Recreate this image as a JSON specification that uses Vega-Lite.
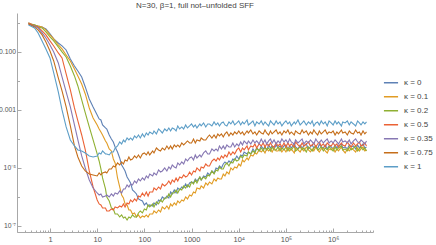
{
"$schema": "https://vega.github.io/schema/vega-lite/v6.json",
"width": 356, "height": 219,
"autosize": {"type": "none"},
"padding": {"left": 17, "top": 13, "right": 63, "bottom": 13},
"background": "white",
"config": {"view": {"stroke": null}, "font": "Liberation Sans"},
"title": {"text": "N=30, β=1, full not–unfolded SFF", "fontSize": 8, "fontWeight": "normal", "color": "#444", "anchor": "middle", "frame": "group", "offset": -5, "baseline": "bottom"},
"datasets": {"sff": [
{"t":0.35,"a":1,"b":1,"c":1,"d":1,"e":0.924,"f":0.924,"g":0.853},
{"t":0.39,"a":0.924,"b":0.924,"c":0.924,"d":0.924,"e":0.853,"f":0.853,"g":0.788},
{"t":0.47,"a":0.853,"b":0.853,"c":0.853,"d":0.788,"e":0.788,"f":0.728,"g":0.672},
{"t":0.56,"a":0.788,"b":0.788,"c":0.728,"d":0.728,"e":0.672,"f":0.574,"g":0.452},
{"t":0.68,"a":0.728,"b":0.728,"c":0.672,"d":0.53,"e":0.452,"f":0.386,"g":0.24},
{"t":0.82,"a":0.621,"b":0.574,"c":0.489,"d":0.386,"e":0.304,"f":0.221,"g":0.127},
{"t":1,"a":0.418,"b":0.386,"c":0.329,"d":0.24,"e":0.174,"f":0.108,"g":0.0621},
{"t":1.2,"a":0.281,"b":0.281,"c":0.24,"d":0.161,"e":0.1,"f":0.0489,"g":0.0189},
{"t":1.5,"a":0.204,"b":0.174,"c":0.149,"d":0.0924,"e":0.0418,"f":0.0127,"g":0.00418},
{"t":1.8,"a":0.161,"b":0.127,"c":0.1,"d":0.0621,"e":0.0137,"f":0.00452,"g":0.001},
{"t":2.2,"a":0.117,"b":0.0788,"c":0.0672,"d":0.0174,"e":0.00418,"f":0.00127,"g":2.59e-4},
{"t":2.7,"a":0.0574,"b":0.0489,"c":0.0329,"d":0.00489,"e":0.00127,"f":2.81e-4,"g":9.24e-5},
{"t":3.3,"a":0.0329,"b":0.0259,"c":0.0149,"d":0.00117,"e":3.04e-4,"f":5.74e-5,"g":5.74e-5},
{"t":3.9,"a":0.0221,"b":0.0149,"c":0.00672,"d":4.18e-4,"e":9.24e-5,"f":2.4e-5,"g":4.18e-5},
{"t":4.7,"a":0.0137,"b":0.00788,"c":0.00221,"d":1.37e-4,"e":2.59e-5,"f":1.17e-5,"g":3.86e-5},
{"t":5.6,"a":0.00621,"b":0.00356,"c":7.88e-4,"d":4.18e-5,"e":1e-5,"f":7.88e-6,"g":3.29e-5},
{"t":6.8,"a":0.0024,"b":0.00117,"c":2.59e-4,"d":7.88e-6,"e":3.86e-6,"f":6.21e-6,"g":2.59e-5},
{"t":8.2,"a":0.00127,"b":5.3e-4,"c":9.24e-5,"d":2.21e-6,"e":2.04e-6,"f":5.74e-6,"g":2.4e-5},
{"t":10,"a":6.72e-4,"b":3.04e-4,"c":3.04e-5,"d":7.88e-7,"e":1.37e-6,"f":5.3e-6,"g":2.59e-5},
{"t":11,"a":4.89e-4,"b":2.21e-4,"c":1.74e-5,"d":5.74e-7,"e":1.17e-6,"f":6.72e-6,"g":3.29e-5},
{"t":12,"a":4.52e-4,"b":1.74e-4,"c":9.24e-6,"d":5.3e-7,"e":1.27e-6,"f":5.74e-6,"g":3.04e-5},
{"t":13,"a":3.04e-4,"b":1.37e-4,"c":4.52e-6,"d":4.18e-7,"e":1e-6,"f":6.72e-6,"g":3.86e-5},
{"t":15,"a":2.4e-4,"b":8.53e-5,"c":1.89e-6,"d":4.18e-7,"e":1.08e-6,"f":7.28e-6,"g":3.04e-5},
{"t":16,"a":2.21e-4,"b":7.28e-5,"c":1e-6,"d":3.29e-7,"e":1.17e-6,"f":6.72e-6,"g":3.04e-5},
{"t":18,"a":1.37e-4,"b":4.52e-5,"c":7.28e-7,"d":3.29e-7,"e":1e-6,"f":9.24e-6,"g":2.81e-5},
{"t":20,"a":1e-4,"b":3.86e-5,"c":4.18e-7,"d":3.86e-7,"e":1.27e-6,"f":9.24e-6,"g":3.56e-5},
{"t":22,"a":7.88e-5,"b":2.04e-5,"c":3.86e-7,"d":3.56e-7,"e":1.08e-6,"f":1.17e-5,"g":3.56e-5},
{"t":24,"a":5.3e-5,"b":1.49e-5,"c":2.59e-7,"d":4.52e-7,"e":1.37e-6,"f":1.08e-5,"g":4.89e-5},
{"t":27,"a":3.56e-5,"b":4.52e-6,"c":2.59e-7,"d":4.18e-7,"e":1.27e-6,"f":1.49e-5,"g":5.74e-5},
{"t":30,"a":2.21e-5,"b":2.21e-6,"c":2.04e-7,"d":4.89e-7,"e":1.61e-6,"f":1.27e-5,"g":7.88e-5},
{"t":33,"a":1.27e-5,"b":1.17e-6,"c":2.4e-7,"d":4.52e-7,"e":1.37e-6,"f":1.61e-5,"g":6.72e-5},
{"t":36,"a":1e-5,"b":9.24e-7,"c":1.89e-7,"d":5.74e-7,"e":1.89e-6,"f":1.37e-5,"g":9.24e-5},
{"t":39,"a":7.88e-6,"b":5.74e-7,"c":2.04e-7,"d":4.52e-7,"e":1.89e-6,"f":1.89e-5,"g":7.88e-5},
{"t":43,"a":4.89e-6,"b":5.3e-7,"c":1.61e-7,"d":6.21e-7,"e":2.59e-6,"f":1.74e-5,"g":1.08e-4},
{"t":47,"a":3.86e-6,"b":3.56e-7,"c":2.04e-7,"d":5.74e-7,"e":2.21e-6,"f":2.4e-5,"g":9.24e-5},
{"t":51,"a":3.04e-6,"b":3.56e-7,"c":1.89e-7,"d":7.88e-7,"e":2.81e-6,"f":1.89e-5,"g":1.08e-4},
{"t":56,"a":1.74e-6,"b":2.59e-7,"c":2.4e-7,"d":6.72e-7,"e":2.59e-6,"f":2.04e-5,"g":9.24e-5},
{"t":62,"a":1.49e-6,"b":2.81e-7,"c":2.04e-7,"d":8.53e-7,"e":3.56e-6,"f":2.59e-5,"g":1.27e-4},
{"t":68,"a":1.27e-6,"b":2.04e-7,"c":2.04e-7,"d":7.28e-7,"e":3.04e-6,"f":2.21e-5,"g":1.08e-4},
{"t":75,"a":8.53e-7,"b":2.4e-7,"c":2.81e-7,"d":1.08e-6,"e":4.18e-6,"f":2.81e-5,"g":1.37e-4},
{"t":82,"a":7.88e-7,"b":1.89e-7,"c":3.29e-7,"d":1e-6,"e":3.56e-6,"f":2.21e-5,"g":1.08e-4},
{"t":91,"a":7.28e-7,"b":2.21e-7,"c":2.81e-7,"d":1.37e-6,"e":4.52e-6,"f":3.04e-5,"g":1.49e-4},
{"t":100,"a":5.3e-7,"b":2.04e-7,"c":3.86e-7,"d":1.08e-6,"e":3.86e-6,"f":3.29e-5,"g":1.17e-4},
{"t":110,"a":6.21e-7,"b":2.4e-7,"c":3.56e-7,"d":1.49e-6,"e":5.3e-6,"f":2.81e-5,"g":1.61e-4},
{"t":120,"a":4.89e-7,"b":2.04e-7,"c":5.3e-7,"d":1.08e-6,"e":4.52e-6,"f":3.56e-5,"g":1.37e-4},
{"t":130,"a":5.3e-7,"b":2.59e-7,"c":4.52e-7,"d":1.49e-6,"e":6.21e-6,"f":2.81e-5,"g":1.74e-4},
{"t":150,"a":4.89e-7,"b":2.59e-7,"c":5.74e-7,"d":1.49e-6,"e":5.3e-6,"f":3.86e-5,"g":1.49e-4},
{"t":160,"a":6.21e-7,"b":3.29e-7,"c":4.52e-7,"d":2.04e-6,"e":6.72e-6,"f":3.29e-5,"g":1.89e-4},
{"t":180,"a":5.3e-7,"b":2.81e-7,"c":6.72e-7,"d":1.74e-6,"e":5.74e-6,"f":4.89e-5,"g":1.49e-4},
{"t":200,"a":7.88e-7,"b":3.56e-7,"c":5.74e-7,"d":2.21e-6,"e":8.53e-6,"f":4.18e-5,"g":2.21e-4},
{"t":220,"a":7.28e-7,"b":3.04e-7,"c":7.88e-7,"d":1.89e-6,"e":7.28e-6,"f":3.86e-5,"g":1.89e-4},
{"t":240,"a":1e-6,"b":4.52e-7,"c":6.72e-7,"d":2.81e-6,"e":7.88e-6,"f":4.89e-5,"g":1.61e-4},
{"t":270,"a":8.53e-7,"b":3.86e-7,"c":9.24e-7,"d":2.4e-6,"e":1e-5,"f":4.18e-5,"g":2.21e-4},
{"t":300,"a":1.08e-6,"b":4.89e-7,"c":9.24e-7,"d":2.81e-6,"e":7.88e-6,"f":5.74e-5,"g":1.89e-4},
{"t":330,"a":9.24e-7,"b":3.86e-7,"c":1.27e-6,"d":3.56e-6,"e":1.08e-5,"f":4.52e-5,"g":2.4e-4},
{"t":360,"a":1.49e-6,"b":5.74e-7,"c":1e-6,"d":2.81e-6,"e":9.24e-6,"f":5.74e-5,"g":1.89e-4},
{"t":390,"a":1.27e-6,"b":4.89e-7,"c":1.37e-6,"d":3.86e-6,"e":1.27e-5,"f":4.52e-5,"g":2.4e-4},
{"t":430,"a":1.74e-6,"b":6.21e-7,"c":1.37e-6,"d":3.29e-6,"e":1.08e-5,"f":6.21e-5,"g":2.21e-4},
{"t":470,"a":1.37e-6,"b":5.3e-7,"c":1.74e-6,"d":4.52e-6,"e":1e-5,"f":5.3e-5,"g":1.89e-4},
{"t":510,"a":2.04e-6,"b":7.28e-7,"c":1.37e-6,"d":3.56e-6,"e":1.49e-5,"f":6.21e-5,"g":2.81e-4},
{"t":560,"a":1.74e-6,"b":6.21e-7,"c":1.89e-6,"d":4.89e-6,"e":1.27e-5,"f":5.3e-5,"g":2.21e-4},
{"t":620,"a":2.21e-6,"b":7.88e-7,"c":1.74e-6,"d":4.52e-6,"e":1.61e-5,"f":7.28e-5,"g":2.59e-4},
{"t":680,"a":2.04e-6,"b":7.28e-7,"c":2.4e-6,"d":5.74e-6,"e":1.37e-5,"f":6.21e-5,"g":2.21e-4},
{"t":750,"a":2.81e-6,"b":1e-6,"c":2.04e-6,"d":4.89e-6,"e":2.04e-5,"f":7.28e-5,"g":3.04e-4},
{"t":820,"a":2.21e-6,"b":8.53e-7,"c":2.59e-6,"d":5.3e-6,"e":1.74e-5,"f":8.53e-5,"g":2.4e-4},
{"t":910,"a":3.04e-6,"b":1.17e-6,"c":2.21e-6,"d":7.28e-6,"e":2.21e-5,"f":7.28e-5,"g":2.81e-4},
{"t":1000,"a":3.29e-6,"b":1.08e-6,"c":3.29e-6,"d":5.74e-6,"e":2.4e-5,"f":7.28e-5,"g":3.29e-4},
{"t":1100,"a":3.04e-6,"b":1.49e-6,"c":2.81e-6,"d":7.88e-6,"e":1.89e-5,"f":1e-4,"g":2.59e-4},
{"t":1200,"a":4.18e-6,"b":1.37e-6,"c":3.86e-6,"d":7.28e-6,"e":2.81e-5,"f":7.28e-5,"g":3.04e-4},
{"t":1300,"a":3.56e-6,"b":2.04e-6,"c":3.04e-6,"d":1e-5,"e":2.21e-5,"f":9.24e-5,"g":2.4e-4},
{"t":1500,"a":4.89e-6,"b":1.89e-6,"c":4.89e-6,"d":7.88e-6,"e":2.81e-5,"f":8.53e-5,"g":3.29e-4},
{"t":1600,"a":3.86e-6,"b":2.4e-6,"c":3.86e-6,"d":1.08e-5,"e":2.4e-5,"f":1.08e-4,"g":2.81e-4},
{"t":1800,"a":5.3e-6,"b":2.04e-6,"c":4.89e-6,"d":1e-5,"e":3.29e-5,"f":9.24e-5,"g":3.56e-4},
{"t":2000,"a":4.89e-6,"b":3.04e-6,"c":4.18e-6,"d":1.37e-5,"e":3.86e-5,"f":9.24e-5,"g":2.59e-4},
{"t":2200,"a":6.72e-6,"b":2.59e-6,"c":5.74e-6,"d":1.17e-5,"e":3.04e-5,"f":1.17e-4,"g":3.29e-4},
{"t":2400,"a":5.74e-6,"b":3.29e-6,"c":5.3e-6,"d":1.17e-5,"e":3.04e-5,"f":1.37e-4,"g":3.29e-4},
{"t":2700,"a":7.88e-6,"b":2.81e-6,"c":7.88e-6,"d":1.74e-5,"e":4.52e-5,"f":1.08e-4,"g":2.81e-4},
{"t":3000,"a":6.72e-6,"b":4.18e-6,"c":6.21e-6,"d":2.04e-5,"e":3.86e-5,"f":1.37e-4,"g":3.86e-4},
{"t":3300,"a":1e-5,"b":3.56e-6,"c":8.53e-6,"d":1.74e-5,"e":4.52e-5,"f":1.08e-4,"g":3.04e-4},
{"t":3600,"a":9.24e-6,"b":4.52e-6,"c":7.88e-6,"d":2.21e-5,"e":3.86e-5,"f":1.49e-4,"g":3.56e-4},
{"t":3900,"a":1.17e-5,"b":4.18e-6,"c":1.08e-5,"d":1.89e-5,"e":5.74e-5,"f":1.27e-4,"g":2.81e-4},
{"t":4300,"a":1e-5,"b":4.18e-6,"c":9.24e-6,"d":2.59e-5,"e":4.52e-5,"f":1.49e-4,"g":3.56e-4},
{"t":4700,"a":1.37e-5,"b":6.21e-6,"c":9.24e-6,"d":2.21e-5,"e":5.74e-5,"f":1.17e-4,"g":3.86e-4},
{"t":5100,"a":1.61e-5,"b":5.3e-6,"c":1.27e-5,"d":2.81e-5,"e":4.52e-5,"f":1.49e-4,"g":3.04e-4},
{"t":5600,"a":1.37e-5,"b":7.28e-6,"c":1.49e-5,"d":2.4e-5,"e":6.21e-5,"f":1.74e-4,"g":2.81e-4},
{"t":6200,"a":1.74e-5,"b":6.21e-6,"c":1.17e-5,"d":3.56e-5,"e":5.3e-5,"f":1.27e-4,"g":3.86e-4},
{"t":6800,"a":1.49e-5,"b":1e-5,"c":1.61e-5,"d":2.81e-5,"e":5.3e-5,"f":1.61e-4,"g":3.29e-4},
{"t":7500,"a":2.04e-5,"b":8.53e-6,"c":1.49e-5,"d":3.56e-5,"e":7.28e-5,"f":1.37e-4,"g":4.18e-4},
{"t":8200,"a":1.89e-5,"b":1.08e-5,"c":2.04e-5,"d":3.04e-5,"e":5.3e-5,"f":1.74e-4,"g":3.04e-4},
{"t":9100,"a":2.59e-5,"b":1e-5,"c":1.74e-5,"d":4.18e-5,"e":6.72e-5,"f":1.49e-4,"g":3.56e-4},
{"t":10000,"a":2.04e-5,"b":1.37e-5,"c":1.89e-5,"d":4.89e-5,"e":5.74e-5,"f":1.89e-4,"g":4.18e-4},
{"t":11000,"a":2.81e-5,"b":1.17e-5,"c":2.59e-5,"d":3.56e-5,"e":7.88e-5,"f":1.49e-4,"g":3.04e-4},
{"t":12000,"a":2.59e-5,"b":1.89e-5,"c":2.21e-5,"d":4.89e-5,"e":6.21e-5,"f":1.74e-4,"g":3.86e-4},
{"t":13000,"a":3.56e-5,"b":1.61e-5,"c":2.81e-5,"d":4.18e-5,"e":8.53e-5,"f":1.37e-4,"g":3.29e-4},
{"t":15000,"a":3.04e-5,"b":2.21e-5,"c":2.59e-5,"d":5.74e-5,"e":6.72e-5,"f":1.89e-4,"g":4.52e-4},
{"t":16000,"a":3.56e-5,"b":1.89e-5,"c":3.56e-5,"d":4.18e-5,"e":8.53e-5,"f":1.61e-4,"g":3.04e-4},
{"t":18000,"a":3.04e-5,"b":2.81e-5,"c":3.04e-5,"d":5.74e-5,"e":6.72e-5,"f":2.04e-4,"g":3.56e-4},
{"t":20000,"a":4.52e-5,"b":2.59e-5,"c":3.86e-5,"d":5.3e-5,"e":9.24e-5,"f":1.49e-4,"g":4.18e-4},
{"t":22000,"a":3.56e-5,"b":3.29e-5,"c":3.29e-5,"d":6.72e-5,"e":7.28e-5,"f":1.74e-4,"g":2.81e-4},
{"t":24000,"a":4.89e-5,"b":3.04e-5,"c":4.89e-5,"d":4.89e-5,"e":8.53e-5,"f":1.37e-4,"g":3.86e-4},
{"t":27000,"a":3.86e-5,"b":4.18e-5,"c":3.86e-5,"d":6.72e-5,"e":6.72e-5,"f":1.89e-4,"g":3.29e-4},
{"t":30000,"a":5.74e-5,"b":3.56e-5,"c":4.89e-5,"d":5.74e-5,"e":1e-4,"f":1.61e-4,"g":4.18e-4},
{"t":33000,"a":4.52e-5,"b":4.18e-5,"c":3.86e-5,"d":7.28e-5,"e":7.28e-5,"f":1.49e-4,"g":3.04e-4},
{"t":36000,"a":5.3e-5,"b":3.29e-5,"c":5.3e-5,"d":5.3e-5,"e":9.24e-5,"f":2.04e-4,"g":3.86e-4},
{"t":39000,"a":4.18e-5,"b":4.52e-5,"c":4.18e-5,"d":6.72e-5,"e":6.72e-5,"f":1.61e-4,"g":3.29e-4},
{"t":43000,"a":6.21e-5,"b":3.86e-5,"c":4.89e-5,"d":5.74e-5,"e":8.53e-5,"f":1.37e-4,"g":2.81e-4},
{"t":47000,"a":4.89e-5,"b":4.52e-5,"c":3.86e-5,"d":7.28e-5,"e":1e-4,"f":1.89e-4,"g":4.18e-4},
{"t":51000,"a":5.74e-5,"b":3.56e-5,"c":5.3e-5,"d":5.74e-5,"e":7.28e-5,"f":1.49e-4,"g":3.56e-4},
{"t":56000,"a":4.52e-5,"b":4.89e-5,"c":4.18e-5,"d":5.3e-5,"e":9.24e-5,"f":1.74e-4,"g":3.04e-4},
{"t":62000,"a":6.21e-5,"b":3.86e-5,"c":4.18e-5,"d":7.28e-5,"e":6.72e-5,"f":2.04e-4,"g":4.18e-4},
{"t":68000,"a":4.89e-5,"b":3.86e-5,"c":5.3e-5,"d":5.74e-5,"e":8.53e-5,"f":1.49e-4,"g":3.29e-4},
{"t":75000,"a":5.74e-5,"b":4.89e-5,"c":3.86e-5,"d":6.72e-5,"e":7.28e-5,"f":1.74e-4,"g":3.86e-4},
{"t":82000,"a":4.52e-5,"b":3.56e-5,"c":4.89e-5,"d":5.3e-5,"e":1e-4,"f":1.37e-4,"g":2.81e-4},
{"t":91000,"a":5.74e-5,"b":4.52e-5,"c":4.18e-5,"d":7.28e-5,"e":7.88e-5,"f":1.89e-4,"g":3.56e-4},
{"t":100000,"a":6.21e-5,"b":3.56e-5,"c":5.3e-5,"d":5.3e-5,"e":9.24e-5,"f":1.61e-4,"g":4.18e-4},
{"t":110000,"a":4.52e-5,"b":4.89e-5,"c":3.86e-5,"d":7.28e-5,"e":7.28e-5,"f":2.04e-4,"g":3.29e-4},
{"t":120000,"a":5.74e-5,"b":3.86e-5,"c":4.89e-5,"d":5.74e-5,"e":1e-4,"f":1.49e-4,"g":3.86e-4},
{"t":130000,"a":4.89e-5,"b":4.52e-5,"c":4.18e-5,"d":6.72e-5,"e":7.88e-5,"f":1.74e-4,"g":2.81e-4},
{"t":150000,"a":6.72e-5,"b":3.29e-5,"c":5.74e-5,"d":5.3e-5,"e":6.72e-5,"f":1.37e-4,"g":3.86e-4},
{"t":160000,"a":5.3e-5,"b":4.89e-5,"c":3.86e-5,"d":7.88e-5,"e":9.24e-5,"f":1.89e-4,"g":3.29e-4},
{"t":180000,"a":4.52e-5,"b":4.18e-5,"c":4.52e-5,"d":6.21e-5,"e":7.28e-5,"f":1.61e-4,"g":4.52e-4},
{"t":200000,"a":6.21e-5,"b":3.56e-5,"c":5.3e-5,"d":5.3e-5,"e":8.53e-5,"f":1.49e-4,"g":3.04e-4},
{"t":220000,"a":4.89e-5,"b":4.89e-5,"c":4.18e-5,"d":7.28e-5,"e":1e-4,"f":2.04e-4,"g":3.56e-4},
{"t":240000,"a":5.74e-5,"b":3.86e-5,"c":4.89e-5,"d":5.74e-5,"e":6.72e-5,"f":1.61e-4,"g":4.18e-4},
{"t":270000,"a":6.72e-5,"b":5.3e-5,"c":3.56e-5,"d":6.72e-5,"e":8.53e-5,"f":1.89e-4,"g":3.04e-4},
{"t":300000,"a":4.52e-5,"b":4.18e-5,"c":5.3e-5,"d":7.88e-5,"e":7.28e-5,"f":1.37e-4,"g":3.86e-4},
{"t":330000,"a":5.3e-5,"b":3.56e-5,"c":4.52e-5,"d":5.74e-5,"e":9.24e-5,"f":1.74e-4,"g":3.29e-4},
{"t":360000,"a":6.21e-5,"b":4.52e-5,"c":3.86e-5,"d":6.21e-5,"e":7.88e-5,"f":1.49e-4,"g":4.18e-4},
{"t":390000,"a":4.89e-5,"b":3.86e-5,"c":4.89e-5,"d":7.28e-5,"e":6.72e-5,"f":2.04e-4,"g":2.81e-4},
{"t":430000,"a":5.74e-5,"b":5.3e-5,"c":5.74e-5,"d":5.3e-5,"e":1e-4,"f":1.61e-4,"g":3.56e-4},
{"t":470000,"a":4.52e-5,"b":4.18e-5,"c":4.18e-5,"d":6.72e-5,"e":7.88e-5,"f":1.37e-4,"g":3.86e-4},
{"t":510000,"a":6.72e-5,"b":3.56e-5,"c":4.52e-5,"d":7.88e-5,"e":7.28e-5,"f":1.89e-4,"g":3.04e-4},
{"t":560000,"a":5.3e-5,"b":4.52e-5,"c":5.3e-5,"d":5.74e-5,"e":9.24e-5,"f":1.49e-4,"g":4.18e-4},
{"t":620000,"a":4.89e-5,"b":4.89e-5,"c":3.86e-5,"d":6.72e-5,"e":7.28e-5,"f":1.74e-4,"g":3.29e-4},
{"t":680000,"a":6.21e-5,"b":3.86e-5,"c":4.89e-5,"d":5.3e-5,"e":8.53e-5,"f":2.04e-4,"g":3.86e-4},
{"t":750000,"a":4.52e-5,"b":3.29e-5,"c":4.18e-5,"d":7.28e-5,"e":1e-4,"f":1.49e-4,"g":2.81e-4},
{"t":820000,"a":5.74e-5,"b":4.52e-5,"c":5.3e-5,"d":6.21e-5,"e":7.28e-5,"f":1.74e-4,"g":4.18e-4},
{"t":910000,"a":5.3e-5,"b":4.18e-5,"c":4.52e-5,"d":5.74e-5,"e":8.53e-5,"f":1.61e-4,"g":3.56e-4},
{"t":1000000,"a":4.52e-5,"b":4.89e-5,"c":3.86e-5,"d":7.28e-5,"e":7.28e-5,"f":1.89e-4,"g":3.04e-4},
{"t":1100000,"a":6.21e-5,"b":3.56e-5,"c":5.3e-5,"d":5.74e-5,"e":9.24e-5,"f":1.37e-4,"g":4.18e-4},
{"t":1200000,"a":4.89e-5,"b":4.52e-5,"c":4.18e-5,"d":6.72e-5,"e":7.88e-5,"f":1.74e-4,"g":3.29e-4},
{"t":1300000,"a":5.74e-5,"b":3.86e-5,"c":4.89e-5,"d":5.3e-5,"e":6.72e-5,"f":1.49e-4,"g":3.86e-4},
{"t":1500000,"a":6.72e-5,"b":5.3e-5,"c":5.74e-5,"d":7.28e-5,"e":1e-4,"f":2.04e-4,"g":2.81e-4},
{"t":1600000,"a":4.89e-5,"b":4.18e-5,"c":4.18e-5,"d":6.21e-5,"e":7.88e-5,"f":1.61e-4,"g":3.86e-4},
{"t":1800000,"a":5.3e-5,"b":3.29e-5,"c":4.52e-5,"d":5.74e-5,"e":8.53e-5,"f":1.74e-4,"g":3.56e-4},
{"t":2000000,"a":4.52e-5,"b":4.52e-5,"c":3.86e-5,"d":7.88e-5,"e":7.28e-5,"f":1.37e-4,"g":4.18e-4},
{"t":2200000,"a":6.21e-5,"b":3.86e-5,"c":5.3e-5,"d":6.21e-5,"e":9.24e-5,"f":1.89e-4,"g":3.04e-4},
{"t":2400000,"a":5.3e-5,"b":4.89e-5,"c":4.18e-5,"d":5.3e-5,"e":6.72e-5,"f":1.61e-4,"g":3.86e-4},
{"t":2700000,"a":5.74e-5,"b":4.18e-5,"c":4.89e-5,"d":7.28e-5,"e":8.53e-5,"f":1.49e-4,"g":3.29e-4},
{"t":3000000,"a":4.52e-5,"b":3.56e-5,"c":5.74e-5,"d":5.74e-5,"e":1e-4,"f":2.04e-4,"g":2.81e-4},
{"t":3300000,"a":6.21e-5,"b":4.89e-5,"c":3.86e-5,"d":6.72e-5,"e":7.88e-5,"f":1.61e-4,"g":4.18e-4},
{"t":3600000,"a":4.89e-5,"b":3.86e-5,"c":4.52e-5,"d":7.88e-5,"e":7.28e-5,"f":1.74e-4,"g":3.56e-4},
{"t":3900000,"a":5.74e-5,"b":4.52e-5,"c":5.3e-5,"d":5.74e-5,"e":9.24e-5,"f":1.37e-4,"g":3.04e-4},
{"t":4300000,"a":6.72e-5,"b":5.3e-5,"c":4.18e-5,"d":6.21e-5,"e":7.88e-5,"f":1.89e-4,"g":3.86e-4},
{"t":4700000,"a":4.89e-5,"b":3.86e-5,"c":4.89e-5,"d":7.28e-5,"e":6.72e-5,"f":1.49e-4,"g":3.29e-4},
{"t":5100000,"a":5.3e-5,"b":4.18e-5,"c":3.86e-5,"d":5.74e-5,"e":8.53e-5,"f":1.74e-4,"g":3.86e-4}
]},
"layer": [
{
"data": {"name": "sff"},
"transform": [{"fold": ["a","b","c","d","e","f","g"], "as": ["k","v"]}],
"mark": {"type": "line", "strokeWidth": 1.1, "clip": true},
"encoding": {
"x": {"field": "t", "type": "quantitative", "scale": {"type": "log", "domain": [0.2, 7000000], "nice": false},
"axis": {"orient": "bottom", "values": [1,10,100,1000,10000,100000,1000000], "ticks": false, "domainColor": "#a8a8a8", "domainWidth": 1, "labelFontSize": 7.5, "labelColor": "#555", "labelPadding": 3, "labelFlush": false, "labelOverlap": false, "grid": false, "title": null,
"labelExpr": "datum.value < 5000 ? format(datum.value, 'd') : datum.value < 50000 ? '10⁴' : datum.value < 500000 ? '10⁵' : '10⁶'"}},
"y": {"field": "v", "type": "quantitative", "scale": {"type": "log", "domain": [6.2e-8, 2.2], "nice": false},
"axis": {"orient": "left", "values": [0.1, 0.001, 0.00001, 1e-7], "ticks": false, "domainColor": "#a8a8a8", "domainWidth": 1, "labelFontSize": 6.8, "labelColor": "#555", "labelPadding": 1.5, "labelFlush": false, "labelOverlap": false, "grid": false, "title": null,
"labelExpr": "datum.value > 0.05 ? '0.100' : datum.value > 0.0005 ? '0.001' : datum.value > 0.000005 ? '10⁻⁵' : '10⁻⁷'"}},
"color": {"field": "k", "type": "nominal",
"scale": {"domain": ["a","b","c","d","e","f","g"], "range": ["#5E81B5","#E19C24","#8FB032","#EB6235","#8778B3","#C56E1A","#5D9EC7"]},
"legend": {"orient": "none", "legendX": 366, "legendY": 63, "title": null, "symbolType": "stroke", "symbolSize": 200, "symbolStrokeWidth": 1.5, "labelFontSize": 8, "labelColor": "#444", "clipHeight": 13.5, "rowPadding": 0, "labelOffset": 5, "padding": 0,
"labelExpr": "datum.value == 'a' ? 'κ = 0' : datum.value == 'b' ? 'κ = 0.1' : datum.value == 'c' ? 'κ = 0.2' : datum.value == 'd' ? 'κ = 0.5' : datum.value == 'e' ? 'κ = 0.35' : datum.value == 'f' ? 'κ = 0.75' : 'κ = 1'"}}
}
},
{
"data": {"values": [{"t": 1, "v": 0.1}]},
"mark": {"type": "point", "opacity": 0},
"encoding": {
"x": {"field": "t", "type": "quantitative", "scale": {"type": "log", "domain": [0.2, 7000000], "nice": false},
"axis": {"orient": "bottom", "values": [1,10,100,1000,10000,100000,1000000], "labels": false, "domain": false, "tickSize": -4, "tickColor": "#a8a8a8", "grid": false, "title": null}},
"y": {"field": "v", "type": "quantitative", "scale": {"type": "log", "domain": [6.2e-8, 2.2], "nice": false},
"axis": {"orient": "left", "values": [0.1, 0.001, 0.00001, 1e-7], "labels": false, "domain": false, "tickSize": -4, "tickColor": "#a8a8a8", "grid": false, "title": null}}
}
},
{
"data": {"values": [{"t": 1, "v": 0.1}]},
"mark": {"type": "point", "opacity": 0},
"encoding": {
"x": {"field": "t", "type": "quantitative", "scale": {"type": "log", "domain": [0.2, 7000000], "nice": false},
"axis": {"orient": "bottom", "values": [0.2,0.3,0.4,0.5,0.6,0.7,0.8,0.9,2,3,4,5,6,7,8,9,20,30,40,50,60,70,80,90,200,300,400,500,600,700,800,900,2000,3000,4000,5000,6000,7000,8000,9000,20000,30000,40000,50000,60000,70000,80000,90000,200000,300000,400000,500000,600000,700000,800000,900000,2000000,3000000,4000000,5000000,6000000,7000000], "labels": false, "domain": false, "tickSize": -2, "tickColor": "#a8a8a8", "grid": false, "title": null}},
"y": {"field": "v", "type": "quantitative", "scale": {"type": "log", "domain": [6.2e-8, 2.2], "nice": false},
"axis": {"orient": "left", "values": [1, 0.01, 0.0001, 0.000001], "labels": false, "domain": false, "tickSize": -2.5, "tickColor": "#a8a8a8", "grid": false, "title": null}}
}
}
],
"resolve": {"axis": {"x": "independent", "y": "independent"}}
}
